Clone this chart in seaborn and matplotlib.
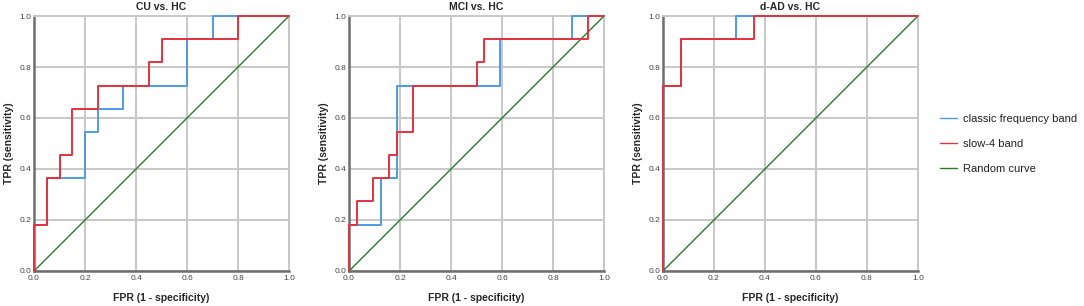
import pandas as pd
import seaborn as sns
import matplotlib
matplotlib.use("Agg")
import matplotlib.pyplot as plt

# ROC vertices (steps-post): each point holds its TPR until the next FPR
titles = ["CU vs. HC", "MCI vs. HC", "d-AD vs. HC"]

cu_classic_fpr = [0.0, 0.0, 0.05, 0.2, 0.25, 0.35, 0.6, 0.7, 1.0]
cu_classic_tpr = [0.0, 0.182, 0.364, 0.545, 0.636, 0.727, 0.909, 1.0, 1.0]
cu_slow4_fpr = [0.0, 0.0, 0.05, 0.1, 0.15, 0.25, 0.45, 0.5, 0.8, 1.0]
cu_slow4_tpr = [0.0, 0.182, 0.364, 0.455, 0.636, 0.727, 0.818, 0.909, 1.0, 1.0]

mci_classic_fpr = [0.0, 0.0, 0.125, 0.1875, 0.594, 0.875, 1.0]
mci_classic_tpr = [0.0, 0.182, 0.364, 0.727, 0.909, 1.0, 1.0]
mci_slow4_fpr = [0.0, 0.0, 0.031, 0.094, 0.156, 0.1875, 0.25, 0.5, 0.531, 0.9375, 1.0]
mci_slow4_tpr = [0.0, 0.182, 0.273, 0.364, 0.455, 0.545, 0.727, 0.818, 0.909, 1.0, 1.0]

ad_classic_fpr = [0.0, 0.0, 0.071, 0.286, 1.0]
ad_classic_tpr = [0.0, 0.727, 0.909, 1.0, 1.0]
ad_slow4_fpr = [0.0, 0.0, 0.071, 0.357, 1.0]
ad_slow4_tpr = [0.0, 0.727, 0.909, 1.0, 1.0]

random_fpr = [0.0, 1.0]
random_tpr = [0.0, 1.0]

series_names = ["classic frequency band", "slow-4 band", "Random curve"]
colors = ["#4d9be6", "#e5323e", "#2a7a2a"]

panels = [
    (cu_classic_fpr, cu_classic_tpr, cu_slow4_fpr, cu_slow4_tpr),
    (mci_classic_fpr, mci_classic_tpr, mci_slow4_fpr, mci_slow4_tpr),
    (ad_classic_fpr, ad_classic_tpr, ad_slow4_fpr, ad_slow4_tpr),
]


def set_config():
    sns.set_theme(style="white")
    plt.rcParams["font.family"] = ["Liberation Sans", "DejaVu Sans"]


def draw_panel(ax, title, cf, ct, sf, st):
    sns.lineplot(x=cf, y=ct, ax=ax, color=colors[0], lw=1.4, sort=False,
                 estimator=None, drawstyle="steps-post", label=series_names[0],
                 clip_on=False, zorder=5)
    sns.lineplot(x=sf, y=st, ax=ax, color=colors[1], lw=1.4, sort=False,
                 estimator=None, drawstyle="steps-post", label=series_names[1],
                 clip_on=False, zorder=6)
    sns.lineplot(x=random_fpr, y=random_tpr, ax=ax, color=colors[2], lw=1.0,
                 sort=False, estimator=None, label=series_names[2], zorder=4)
    ax.set_xlim(0, 1)
    ax.set_ylim(0, 1)
    ax.set_xticks([0, 0.2, 0.4, 0.6, 0.8, 1.0])
    ax.set_yticks([0, 0.2, 0.4, 0.6, 0.8, 1.0])
    ax.set_xticklabels(["0.0", "0.2", "0.4", "0.6", "0.8", "1.0"])
    ax.set_yticklabels(["0.0", "0.2", "0.4", "0.6", "0.8", "1.0"])
    ax.tick_params(labelsize=6, colors="#444444", length=0, pad=3)
    ax.tick_params(axis="y", pad=2)
    ax.grid(True, color="#c8c8c8", lw=1.4)
    ax.set_axisbelow(True)
    for s in ["top", "right"]:
        ax.spines[s].set_color("#c8c8c8")
        ax.spines[s].set_linewidth(1.4)
    for s in ["left", "bottom"]:
        ax.spines[s].set_color("#6e6e6e")
        ax.spines[s].set_linewidth(1.8)
    ax.set_title(title, fontsize=7.5, fontweight="bold", pad=4)
    ax.set_xlabel("FPR (1 - specificity)", fontsize=7.5, fontweight="bold", labelpad=8)
    ax.set_ylabel("TPR (sensitivity)", fontsize=7.5, fontweight="bold", labelpad=4)
    if ax.get_legend() is not None:
        ax.get_legend().remove()


def main():
    set_config()
    fig = plt.figure(figsize=(10.84, 3.06), dpi=100)
    lefts = [0.0314, 0.322, 0.6116]
    axes = [fig.add_axes([l, 0.1144, 0.2352, 0.8333]) for l in lefts]
    for ax, title, (cf, ct, sf, st) in zip(axes, titles, panels):
        draw_panel(ax, title, cf, ct, sf, st)

    handles, labels = axes[0].get_legend_handles_labels()
    if not handles:
        from matplotlib.lines import Line2D
        handles = [Line2D([], [], color=c, lw=1.2) for c in colors]
        labels = series_names
    leg = fig.legend(handles, labels, loc="upper left", bbox_to_anchor=(0.858, 0.66),
                     frameon=False, fontsize=8, handlelength=1.5, handletextpad=0.6,
                     labelspacing=1.35, labelcolor="#222222")
    for h in leg.get_lines():
        h.set_linewidth(1.0)
    fig.savefig("out.png", dpi=100)


if __name__ == "__main__":
    main()
